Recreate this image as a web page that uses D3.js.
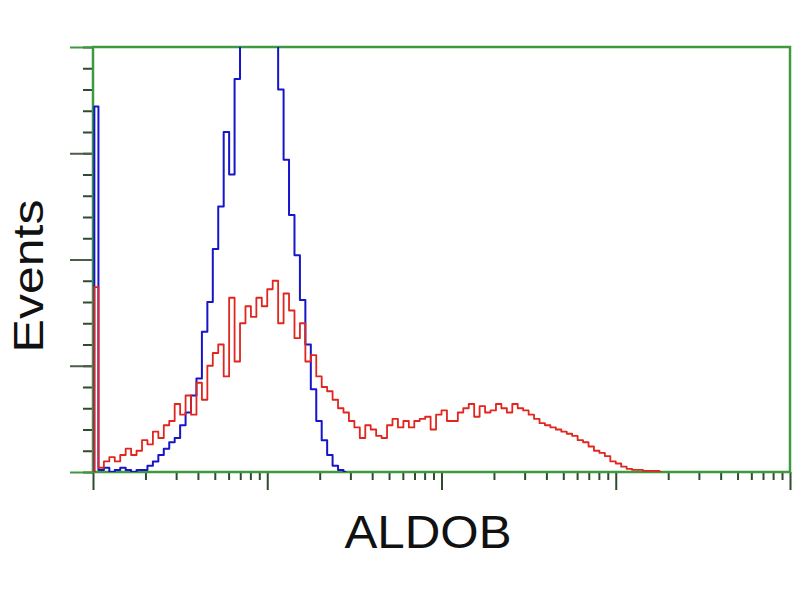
<html>
<head>
    <meta charset="UTF-8">
    <title>ALDOB histogram</title>
    <style>
        body { margin: 0; background: #fff; }
        text { font-family: "Liberation Sans", Arial, sans-serif; }
    </style>
</head>
<body>
<script src="https://d3js.org/d3.v7.min.js"></script>
<div id="chart"></div>
<script>
    // 128 log-spaced channels across 4 decades, counts per channel
    var nChannels = 128;
    var blueCounts = [172, 1, 2, 0, 1, 2, 1, 0, 1, 1,
        3, 5, 8, 11, 14, 16, 22, 28, 36, 44,
        66, 80, 105, 125, 160, 140, 185, 215, 230, 240,
        245, 240, 230, 210, 180, 147, 121, 102, 81, 60,
        39, 24, 15, 8, 3, 1, 0];
    var redCounts = [87, 2, 5, 7, 5, 8, 11, 8, 10, 15,
        13, 19, 16, 22, 24, 32, 27, 36, 27, 42,
        34, 50, 56, 60, 45, 82, 52, 70, 78, 73,
        82, 78, 86, 90, 70, 84, 76, 63, 70, 52,
        55, 45, 40, 38, 34, 30, 28, 24, 21, 16,
        22, 20, 17, 16, 22, 25, 21, 24, 21, 24,
        25, 26, 20, 27, 29, 24, 24, 28, 30, 32,
        26, 31, 28, 29, 32, 30, 28, 32, 30, 29,
        27, 25, 23, 22, 21, 20, 19, 18, 17, 15,
        14, 12, 10, 9, 7.5, 5, 4, 2.5, 1.5, 1,
        1, 0.5, 0.5, 0.5, 0];
    var yMinorTicks = d3.range(0, 201, 10);
    var yMajorTicks = [0, 50, 100, 150, 200];
    var xDecades = [1, 10, 100, 1000, 10000];
    var xLabel = "ALDOB", yLabel = "Events";

    var W = 800, H = 600,
        plot = {left: 93, right: 790, top: 47, bottom: 472};

    var svg = d3.select("#chart").append("svg")
        .attr("width", W).attr("height", H);

    var xCh = d3.scaleLinear().domain([0, nChannels]).range([plot.left, plot.right]);
    var xLog = d3.scaleLog().domain([1, 10000]).range([plot.left, plot.right]);
    var y = d3.scaleLinear().domain([0, 200]).range([plot.bottom, plot.top]);

    var tickColor = "#2f4a2f", frameColor = "#3f9a3f";

    // y ticks (minor then major), no labels
    svg.append("g")
        .attr("transform", `translate(${plot.left},0)`)
        .call(d3.axisLeft(y).tickValues(yMinorTicks).tickSize(10).tickFormat(""))
        .call(g => g.select(".domain").remove())
        .call(g => g.selectAll("line").attr("stroke", tickColor).attr("stroke-width", 2));
    svg.append("g")
        .attr("transform", `translate(${plot.left},0)`)
        .call(d3.axisLeft(y).tickValues(yMajorTicks).tickSize(23).tickFormat(""))
        .call(g => g.select(".domain").remove())
        .call(g => g.selectAll("line")
            .attr("stroke", d => (d === 0 || d === 200) ? frameColor : "#4a5e4a")
            .attr("stroke-width", 2));

    // x ticks, log scale
    var minor = xLog.ticks().filter(d => xDecades.indexOf(d) < 0);
    svg.append("g")
        .attr("transform", `translate(0,${plot.bottom})`)
        .call(d3.axisBottom(xLog).tickValues(minor).tickSize(8).tickFormat(""))
        .call(g => g.select(".domain").remove())
        .call(g => g.selectAll("line").attr("stroke", tickColor).attr("stroke-width", 2));
    svg.append("g")
        .attr("transform", `translate(0,${plot.bottom})`)
        .call(d3.axisBottom(xLog).tickValues(xDecades).tickSize(18).tickFormat(""))
        .call(g => g.select(".domain").remove())
        .call(g => g.selectAll("line").attr("stroke", tickColor).attr("stroke-width", 2));

    // frame
    svg.append("rect")
        .attr("x", plot.left).attr("y", plot.top)
        .attr("width", plot.right - plot.left).attr("height", plot.bottom - plot.top)
        .attr("fill", "none").attr("stroke", frameColor).attr("stroke-width", 2.5);

    svg.append("clipPath").attr("id", "clip")
        .append("rect")
        .attr("x", plot.left - 2).attr("y", plot.top)
        .attr("width", plot.right - plot.left + 2).attr("height", plot.bottom - plot.top);

    var line = d3.line()
        .x(d => xCh(d[0]))
        .y(d => y(d[1]))
        .curve(d3.curveStep);

    function pts(counts) {
        // start from the baseline so the first channel rises from the axis
        return [[0, 0]].concat(counts.map((c, i) => [i + 0.5, c]));
    }

    var series = [
        {counts: blueCounts, color: "#1616c8", width: 2},
        {counts: redCounts, color: "#e0261f", width: 1.8}
    ];
    svg.append("g").attr("clip-path", "url(#clip)")
        .selectAll("path")
        .data(series)
        .enter()
        .append("path")
        .attr("d", d => line(pts(d.counts)))
        .attr("fill", "none")
        .attr("stroke", d => d.color)
        .attr("stroke-width", d => d.width)
        .attr("stroke-linejoin", "round");

    // axis titles
    svg.append("text")
        .attr("x", 428).attr("y", 548)
        .attr("text-anchor", "middle")
        .attr("font-size", 46)
        .attr("textLength", 167)
        .attr("lengthAdjust", "spacingAndGlyphs")
        .attr("fill", "#111")
        .text(xLabel);
    svg.append("text")
        .attr("transform", "translate(43,276) rotate(-90)")
        .attr("text-anchor", "middle")
        .attr("font-size", 42)
        .attr("textLength", 153)
        .attr("lengthAdjust", "spacingAndGlyphs")
        .attr("fill", "#111")
        .text(yLabel);
</script>
</body>
</html>
